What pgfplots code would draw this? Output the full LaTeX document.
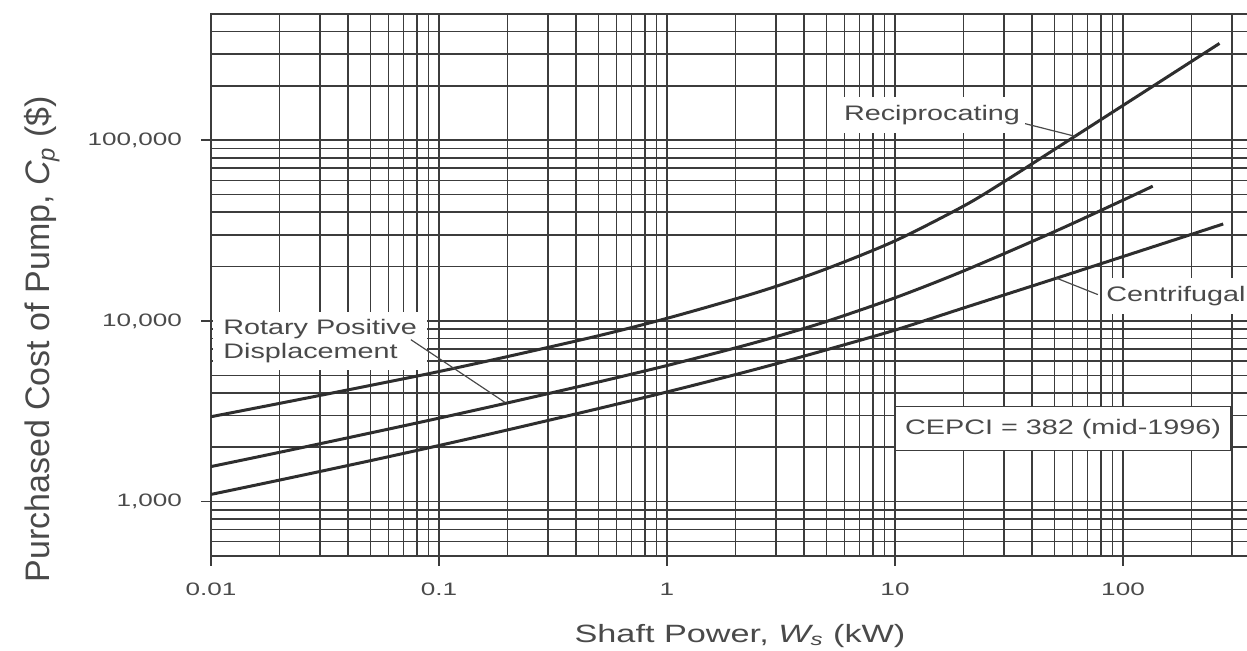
\documentclass[border=0pt]{standalone}
\usepackage{fontspec}
\setmainfont{Liberation Sans}[FakeStretch=1.37]
\newfontfamily\tickfont{Liberation Sans}[FakeStretch=1.45]
\newfontfamily\ylabfont{Liberation Sans}
\usepackage{pgfplots}
\pgfplotsset{compat=1.18}
\definecolor{txt}{HTML}{4A4A4A}
\definecolor{grd}{HTML}{3C3C3C}
\definecolor{crv}{HTML}{2E2E2E}
\begin{document}
\begin{tikzpicture}
\begin{axis}[
  xmode=log, ymode=log,
  scale only axis, width=522.1pt, height=271pt,
  xmin=0.01, xmax=380, ymin=500, ymax=500000,
  tick pos=left,
  xtick={0.01,0.1,1,10,100},
  xticklabels={0.01,0.1,1,10,100},
  ytick={1000,10000,100000},
  yticklabels={{1,000},{10,000},{100,000}},
  minor xtick={0.02,0.03,0.04,0.05,0.06,0.07,0.08,0.09,0.2,0.3,0.4,0.5,0.6,0.7,0.8,0.9,2,3,4,5,6,7,8,9,20,30,40,50,60,70,80,90,200,300},
  minor ytick={600,700,800,900,2000,3000,4000,5000,6000,7000,8000,9000,20000,30000,40000,50000,60000,70000,80000,90000,200000,300000,400000},
  grid=both,
  grid style={line width=0.8pt, grd},
  major grid style={line width=0.8pt, grd},
  minor grid style={line width=0.8pt, grd},
  tick align=outside,
  major tick length=5pt,
  minor tick length=0pt,
  tick style={line width=0.8pt, grd},
  axis line style={line width=1.3pt, grd},
  xticklabel style={font=\tickfont\fontsize{9}{10}\selectfont, text=txt, yshift=-5pt},
  yticklabel style={font=\tickfont\fontsize{9}{10}\selectfont, text=txt, xshift=-6pt},
  xlabel={Shaft Power, {\itshape W}\textsubscript{\itshape s} (kW)},
  ylabel={Purchased Cost of Pump, {\itshape C}\textsubscript{\itshape p} (\$)},
  xlabel style={font=\fontsize{12.5}{14}\selectfont, text=txt, at={(axis description cs:0.5066,-0.1587)}, anchor=base},
  ylabel style={font=\ylabfont\fontsize{17}{20}\selectfont, text=txt, at={(axis description cs:-0.1618,0.4)}, anchor=center},
]
% Reciprocating
\addplot[crv, line width=1.5pt, smooth] coordinates {
 (0.01,2951) (0.02,3498) (0.05,4396) (0.1,5248) (0.2,6353) (0.5,8279) (1,10340) (2,13250) (3,15520) (5,19430) (10,27750) (20,43250) (30,58880) (50,88900) (100,155900) (200,273500) (265,343600)};
% Rotary positive displacement
\addplot[crv, line width=1.5pt, smooth] coordinates {
 (0.01,1563) (0.02,1875) (0.05,2398) (0.1,2897) (0.2,3520) (0.5,4592) (1,5666) (2,7096) (3,8178) (5,9931) (10,13430) (20,18920) (50,31190) (100,46620) (135,55700)};
% Centrifugal
\addplot[crv, line width=1.5pt, smooth] coordinates {
 (0.01,1096) (0.02,1316) (0.05,1685) (0.1,2044) (0.2,2494) (0.5,3273) (1,4046) (2,5051) (3,5787) (5,6919) (10,8900) (20,11800) (50,17100) (100,22720) (200,30180) (275,34410)};
% annotations
\node[fill=white, anchor=north west, align=left, inner xsep=5pt, inner ysep=3.5pt, text=txt, font=\fontsize{10.5}{12}\selectfont] at (axis cs:0.0102,11260) {Rotary Positive\\Displacement};
\draw[txt, line width=0.6pt] (axis cs:0.0753,7880) -- (axis cs:0.1948,3540);
\node[fill=white, inner xsep=5pt, inner ysep=4pt, text=txt, font=\fontsize{10.5}{12}\selectfont] at (axis cs:14.53,137700) {Reciprocating};
\draw[txt, line width=0.6pt] (axis cs:37.2,123600) -- (axis cs:62,105000);
\node[fill=white, anchor=west, inner xsep=2pt, inner ysep=4pt, text=txt, font=\fontsize{10.5}{12}\selectfont] at (axis cs:80.9,13700) {Centrifugal};
\draw[txt, line width=0.6pt] (axis cs:77.6,13990) -- (axis cs:50.8,17300);
\node[fill=white, draw=grd, line width=0.6pt, minimum width=168pt, minimum height=22pt, text=txt, font=\fontsize{10.5}{12}\selectfont] at (axis cs:54.6,2535) {CEPCI = 382 (mid-1996)};
\end{axis}
\pgfresetboundingbox
\useasboundingbox (-105.5pt,-47pt) rectangle (518pt,278pt);
\end{tikzpicture}
\end{document}
